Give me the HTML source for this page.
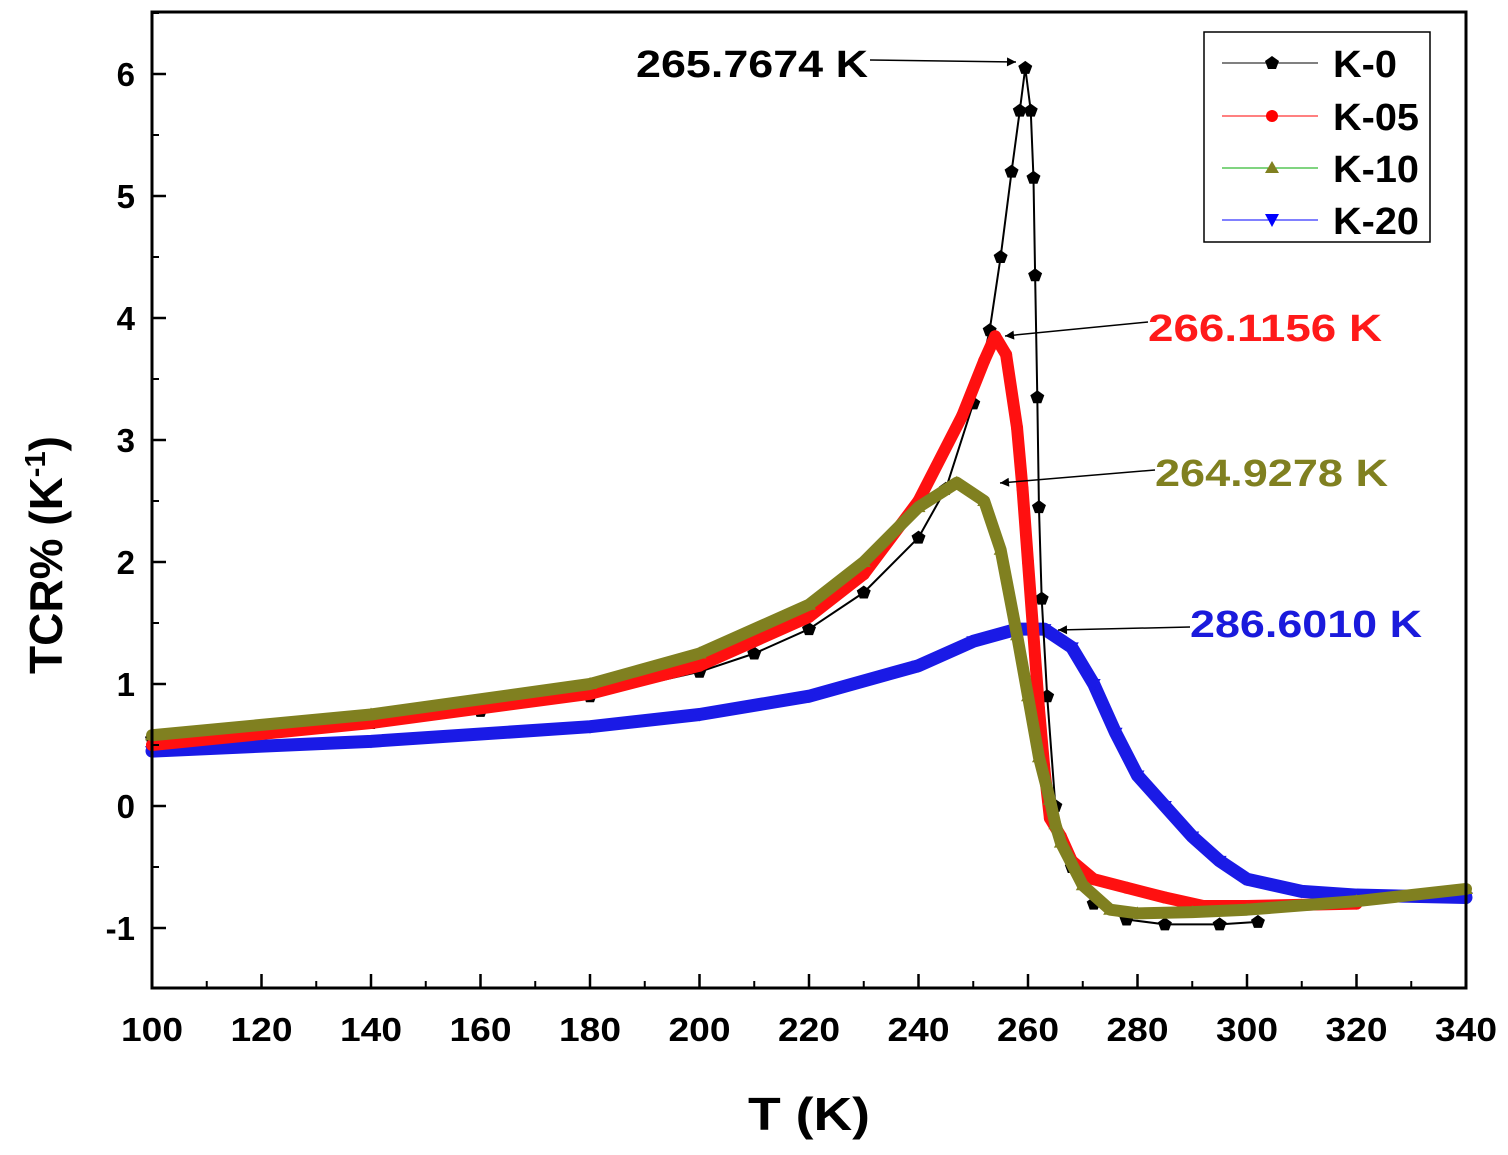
<!DOCTYPE html>
<html><head><meta charset="utf-8"><style>
body{margin:0;background:#fff}
svg{font-family:"Liberation Sans",Arial,sans-serif;font-weight:bold}
</style></head><body>
<svg id="chart" width="1508" height="1150" xmlns="http://www.w3.org/2000/svg">
<defs>
<marker id="ah" viewBox="0 0 10 10" refX="10" refY="5" markerWidth="9" markerHeight="6" orient="auto"><path d="M0,0L10,5L0,10z" fill="#000"/></marker>
</defs>
<g id="series"></g>
<rect x="152" y="12" width="1314" height="976" fill="none" stroke="#000" stroke-width="3"/>
<g id="axes"></g>
<text x="748" y="1130" font-size="46" textLength="122" lengthAdjust="spacingAndGlyphs">T (K)</text>
<text transform="translate(62,555) rotate(-90)" font-size="46" text-anchor="middle">TCR% (K<tspan dy="-17" font-size="29">-1</tspan><tspan dy="17">)</tspan></text>
<g>
<text x="636" y="77" font-size="38" textLength="232" lengthAdjust="spacingAndGlyphs" fill="#000">265.7674 K</text>
<line x1="870" y1="60" x2="1016" y2="62" stroke="#000" stroke-width="1.5" marker-end="url(#ah)"/>
<text x="1148" y="341" font-size="38" textLength="234" lengthAdjust="spacingAndGlyphs" fill="#ff1a1a">266.1156 K</text>
<line x1="1148" y1="322" x2="1005" y2="336" stroke="#000" stroke-width="1.5" marker-end="url(#ah)"/>
<text x="1155" y="486" font-size="38" textLength="233" lengthAdjust="spacingAndGlyphs" fill="#808020">264.9278 K</text>
<line x1="1155" y1="470" x2="1000" y2="483" stroke="#000" stroke-width="1.5" marker-end="url(#ah)"/>
<text x="1190" y="637" font-size="38" textLength="232" lengthAdjust="spacingAndGlyphs" fill="#1a1adc">286.6010 K</text>
<line x1="1190" y1="627" x2="1058" y2="630" stroke="#000" stroke-width="1.5" marker-end="url(#ah)"/>
</g>
<g>
<rect x="1204" y="32" width="226" height="210" fill="#fff" stroke="#000" stroke-width="1.5"/>
<g><line x1="1222" y1="63" x2="1318" y2="63" stroke="#000"/><polygon points="1272,56 1279,61 1276,69 1268,69 1265,61" fill="#000"/><text x="1333" y="77" font-size="38" textLength="64" lengthAdjust="spacingAndGlyphs">K-0</text></g>
<g><line x1="1222" y1="116" x2="1318" y2="116" stroke="#f00"/><circle cx="1272" cy="116" r="6" fill="#f00"/><text x="1333" y="130" font-size="38" textLength="86" lengthAdjust="spacingAndGlyphs">K-05</text></g>
<g><line x1="1222" y1="168" x2="1318" y2="168" stroke="#0a0"/><polygon points="1272,161 1279,173 1265,173" fill="#808020"/><text x="1333" y="182" font-size="38" textLength="86" lengthAdjust="spacingAndGlyphs">K-10</text></g>
<g><line x1="1222" y1="220" x2="1318" y2="220" stroke="#00f"/><polygon points="1265,214 1279,214 1272,227" fill="#00f"/><text x="1333" y="234" font-size="38" textLength="86" lengthAdjust="spacingAndGlyphs">K-20</text></g>
</g>
</svg>
<script>
const xTicks=[100,120,140,160,180,200,220,240,260,280,300,320,340];
const yTicks=[-1,0,1,2,3,4,5,6];
const k0T=[100,120,140,160,180,200,210,220,230,240,245,250,253,255,257,258.5,259.5,260.5,261,261.3,261.7,262,262.5,263.5,265,268,272,278,285,295,302];
const k0V=[0.55,0.6,0.68,0.78,0.9,1.1,1.25,1.45,1.75,2.2,2.6,3.3,3.9,4.5,5.2,5.7,6.05,5.7,5.15,4.35,3.35,2.45,1.7,0.9,0,-0.5,-0.8,-0.93,-0.97,-0.97,-0.95];
const k05T=[100,140,180,200,220,230,240,248,252,254,256,258,259,260,261,262,263,264,266,268,272,278,285,292,300,320];
const k05V=[0.5,0.68,0.92,1.15,1.55,1.9,2.5,3.2,3.65,3.85,3.7,3.1,2.6,2.0,1.4,0.8,0.3,-0.1,-0.25,-0.45,-0.6,-0.67,-0.75,-0.82,-0.82,-0.8];
const k10T=[100,140,180,200,220,230,240,247,252,255,258,260,262,264,265,266,270,275,280,290,300,320,340];
const k10V=[0.58,0.75,1.0,1.25,1.65,2.0,2.45,2.65,2.5,2.1,1.4,0.9,0.4,0.05,-0.15,-0.3,-0.65,-0.85,-0.88,-0.87,-0.85,-0.78,-0.68];
const k20T=[100,140,180,200,220,240,250,258,263,268,272,276,280,285,290,295,300,310,320,340];
const k20V=[0.45,0.53,0.65,0.75,0.9,1.15,1.35,1.45,1.45,1.3,1.0,0.6,0.25,0,-0.25,-0.45,-0.6,-0.7,-0.73,-0.75];
const X=t=>152+(t-100)*5.475, Y=v=>806-v*122;
const NS='http://www.w3.org/2000/svg';
const ax=document.getElementById('axes'), sg=document.getElementById('series');
function mk(tag,at,parent){const e=document.createElementNS(NS,tag);for(const k in at)e.setAttribute(k,at[k]);parent.appendChild(e);return e;}
xTicks.forEach((t,i)=>{
 const l=mk('line',{x1:X(t),y1:988,x2:X(t),y2:974,stroke:'#000','stroke-width':2.5},ax);
 
 
 if(i<xTicks.length-1){const m=mk('line',{x1:X(t+10),y1:988,x2:X(t+10),y2:981,stroke:'#000','stroke-width':2},ax);
 
 }
 const tx=mk('text',{x:X(t)-31,y:1041,'font-size':33,textLength:62,lengthAdjust:'spacingAndGlyphs'},ax);tx.textContent=t;
 
 
});
yTicks.forEach(v=>{
 const l=mk('line',{x1:152,y1:Y(v),x2:166,y2:Y(v),stroke:'#000','stroke-width':2.5},ax);
 
 
 const m=mk('line',{x1:152,y1:Y(v+0.5),x2:159,y2:Y(v+0.5),stroke:'#000','stroke-width':2},ax);
 
 
 const tx=mk('text',{x:135,y:Y(v)+12,'font-size':33,'text-anchor':'end'},ax);tx.textContent=v;
 
 
});
function series(T,V,color,w,name,shape){
 const g=mk('g',{},sg);
 
 
 const pts=T.map((t,i)=>X(t)+','+Y(V[i])).join(' ');
 mk('polyline',{points:pts,fill:'none',stroke:color,'stroke-width':w,'stroke-linejoin':'round','stroke-linecap':'round'},g);
 T.forEach((t,i)=>{const x=X(t),y=Y(V[i]);let p;
  if(shape==='c')p=mk('circle',{cx:x,cy:y,r:6,fill:color},g);
  else if(shape==='u')p=mk('polygon',{points:`${x},${y-7} ${x+7},${y+5} ${x-7},${y+5}`,fill:color},g);
  else if(shape==='d')p=mk('polygon',{points:`${x-7},${y-5} ${x+7},${y-5} ${x},${y+7}`,fill:color},g);
  else p=mk('polygon',{points:`${x},${y-7} ${x+7},${y-2} ${x+4},${y+6} ${x-4},${y+6} ${x-7},${y-2}`,fill:color},g);
  
  
 });
}
series(k20T,k20V,'#1a1ae6',13,'series-k20','d');
series(k0T,k0V,'#000',2,'series-k0','p');
series(k05T,k05V,'#ff1010',12,'series-k05','c');
series(k10T,k10V,'#808020',12,'series-k10','u');
</script>
</body></html>
